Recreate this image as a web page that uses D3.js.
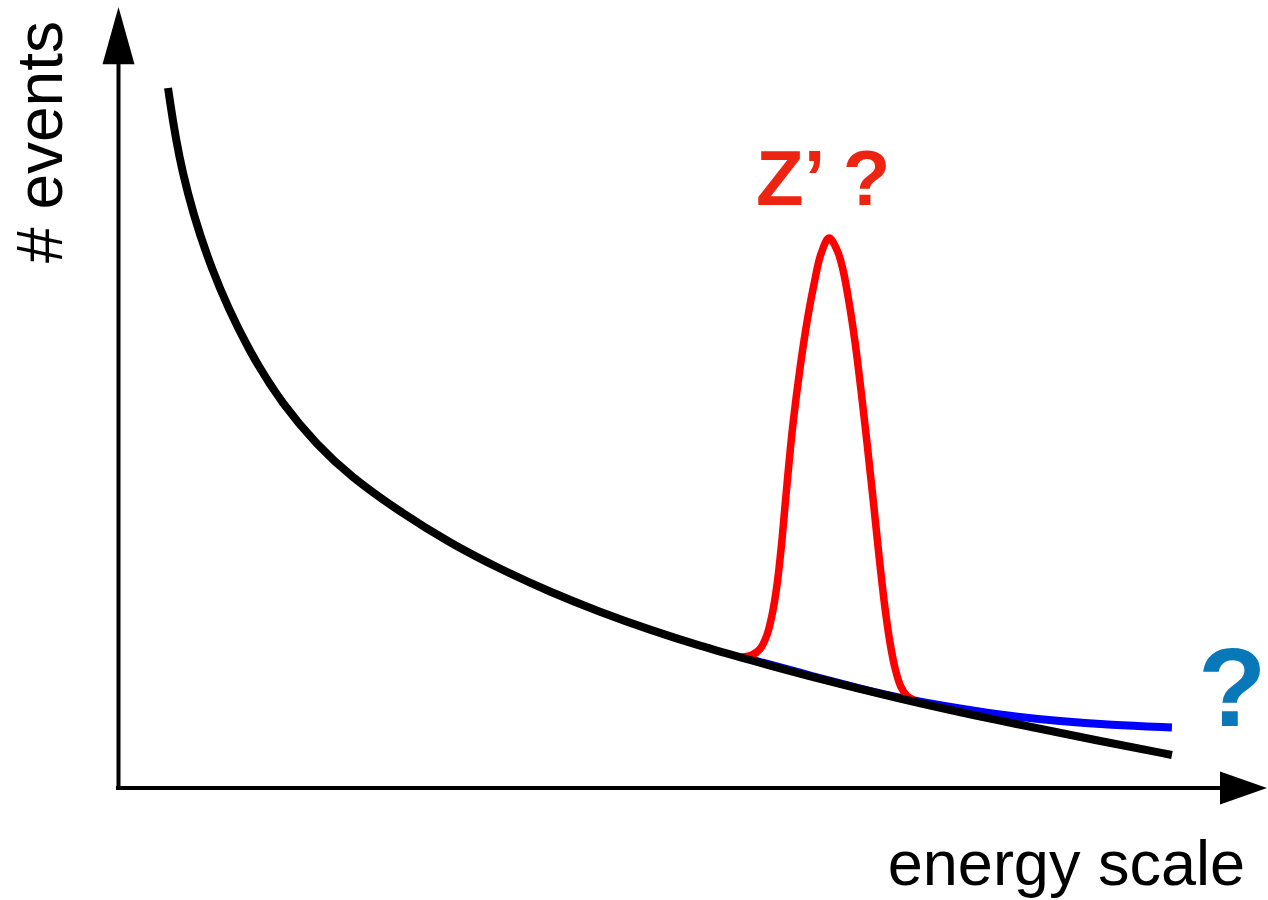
<!DOCTYPE html>
<html>
<head>
<meta charset="utf-8">
<script src="https://cdn.jsdelivr.net/npm/d3@7"></script>
<style>
  html, body { margin: 0; padding: 0; background: #fff; }
  svg { display: block; }
  text { font-family: "Liberation Sans", Arial, Helvetica, sans-serif; }
</style>
</head>
<body>
<svg id="chart" width="1268" height="900"></svg>
<script>
// Falling background spectrum (energy, events) in arbitrary units
const backgroundX = [0.454, 0.563, 0.835, 1.198, 1.497, 1.806, 2.105, 2.559, 3.013, 3.466, 3.920, 4.374, 4.828, 5.281, 5.735, 6.189, 7.096, 8.004, 8.911, 9.564];
const backgroundY = [8.974, 7.923, 6.641, 5.564, 4.910, 4.397, 4.000, 3.538, 3.141, 2.808, 2.513, 2.256, 2.026, 1.821, 1.641, 1.462, 1.141, 0.859, 0.603, 0.423];

// Possible excess at high energy
const excessX = [5.690, 6.189, 6.733, 7.096, 7.641, 8.094, 8.548, 9.002, 9.564];
const excessY = [1.668, 1.477, 1.272, 1.150, 1.016, 0.922, 0.855, 0.808, 0.776];

// Resonance bump on top of the background
const resonanceX = [5.662, 5.753, 5.826, 5.889, 5.935, 5.980, 6.025, 6.071, 6.125, 6.189, 6.252, 6.316, 6.379, 6.452, 6.525, 6.579, 6.633, 6.688, 6.742, 6.797, 6.851, 6.906, 6.960, 7.006, 7.051, 7.105, 7.160, 7.223];
const resonanceY = [1.679, 1.705, 1.782, 1.962, 2.218, 2.603, 3.179, 3.897, 4.667, 5.385, 5.974, 6.462, 6.846, 7.051, 6.897, 6.641, 6.231, 5.718, 5.103, 4.423, 3.718, 2.974, 2.308, 1.859, 1.538, 1.295, 1.179, 1.128];

const axisTitleX = "energy scale";
const axisTitleY = "# events";
const resonanceLabel = "Z\u2019 ?";
const excessLabel = "?";

const svg = d3.select("#chart");

const x = d3.scaleLinear().domain([0, 10]).range([118, 1220]);
const y = d3.scaleLinear().domain([0, 10]).range([788, 8]);

// Axes without ticks, ending in arrow heads
const xAxis = svg.append("g")
  .attr("transform", `translate(0,${y(0)})`)
  .call(d3.axisBottom(x).ticks(0).tickSizeOuter(0));
xAxis.select(".domain").attr("stroke", "#000").attr("stroke-width", 4)
  .attr("d", `M${x(0) - 2},0H${x(10)}`);

const yAxis = svg.append("g")
  .attr("transform", `translate(${x(0) + 0.5},0)`)
  .call(d3.axisLeft(y).ticks(0).tickSizeOuter(0));
yAxis.select(".domain").attr("stroke", "#000").attr("stroke-width", 4)
  .attr("d", `M0,${y(0) + 2}V${y(9.35)}`);

// arrow heads
svg.append("path")
  .attr("d", `M${x(10)},${y(0) - 16.5}L${x(10) + 47},${y(0)}L${x(10)},${y(0) + 16.5}Z`)
  .attr("fill", "#000");
svg.append("path")
  .attr("d", `M${x(0) + 0.5 - 16},${y(9.28)}L${x(0) + 0.5},${y(10) - 1}L${x(0) + 0.5 + 16},${y(9.28)}Z`)
  .attr("fill", "#000");

// smooth spectra, and a curve through the points for the sharp peak
const smooth = d3.line()
  .x(d => x(d[0]))
  .y(d => y(d[1]))
  .curve(d3.curveBasis);
const through = d3.line()
  .x(d => x(d[0]))
  .y(d => y(d[1]))
  .curve(d3.curveCatmullRom.alpha(0.5));

const zip = (a, b) => a.map((v, i) => [v, b[i]]);

svg.append("path")
  .datum(zip(excessX, excessY))
  .attr("d", smooth)
  .attr("fill", "none")
  .attr("stroke", "#0000ff")
  .attr("stroke-width", 8);

svg.append("path")
  .datum(zip(resonanceX, resonanceY))
  .attr("d", through)
  .attr("fill", "none")
  .attr("stroke", "#ff0000")
  .attr("stroke-width", 7.5)
  .attr("stroke-linejoin", "round");

svg.append("path")
  .datum(zip(backgroundX, backgroundY))
  .attr("d", smooth)
  .attr("fill", "none")
  .attr("stroke", "#000")
  .attr("stroke-width", 8);

// Labels
svg.append("text")
  .attr("x", 1245).attr("y", 885)
  .attr("text-anchor", "end")
  .attr("font-size", 63)
  .attr("fill", "#000")
  .text(axisTitleX);

svg.append("text")
  .attr("transform", "translate(62,142) rotate(-90)")
  .attr("text-anchor", "middle")
  .attr("font-size", 64)
  .attr("fill", "#000")
  .text(axisTitleY);

svg.append("text")
  .attr("x", 756).attr("y", 205)
  .attr("font-size", 78)
  .attr("font-weight", "bold")
  .attr("fill", "#ee2412")
  .text(resonanceLabel);

svg.append("text")
  .attr("x", 1198).attr("y", 726)
  .attr("font-size", 112)
  .attr("font-weight", "bold")
  .attr("fill", "#0878b9")
  .text(excessLabel);
</script>
</body>
</html>
